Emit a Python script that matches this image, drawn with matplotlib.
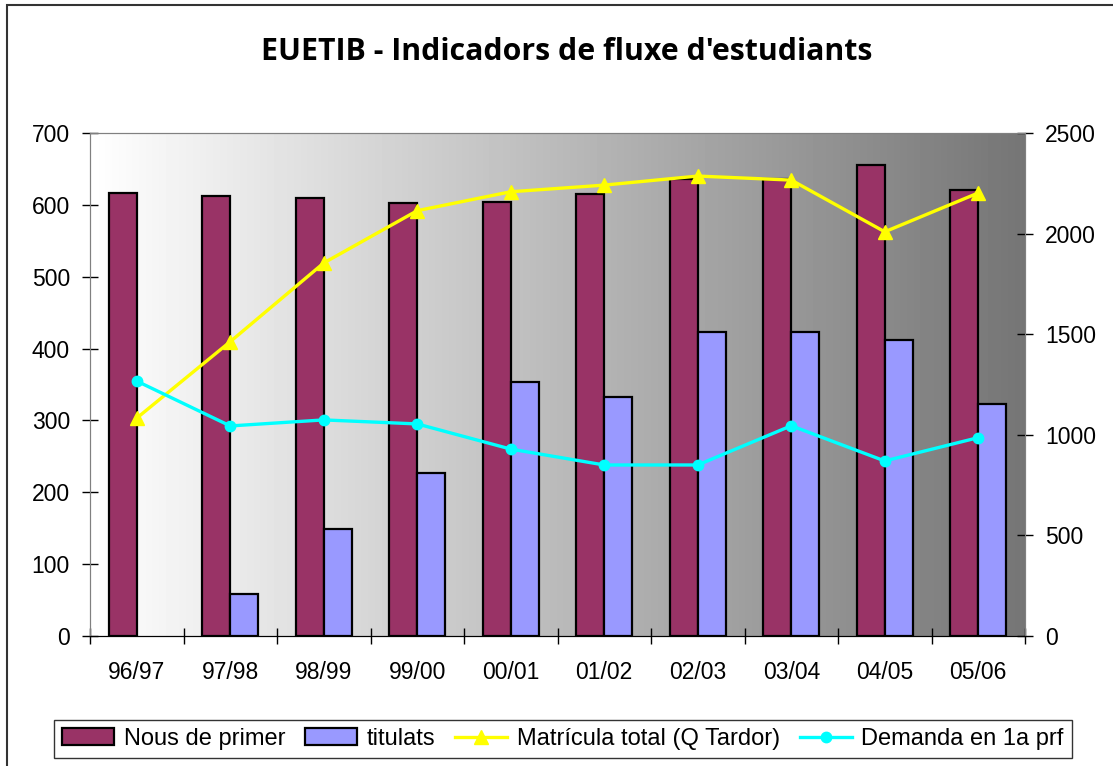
import matplotlib
matplotlib.use('Agg')
import matplotlib.pyplot as plt
import numpy as np
from matplotlib.patches import Rectangle, Patch
from matplotlib.lines import Line2D

plt.rcParams['font.family'] = ['Liberation Sans', 'DejaVu Sans']

cursos = ['96/97', '97/98', '98/99', '99/00', '00/01', '01/02', '02/03', '03/04', '04/05', '05/06']
nous_primer = [617, 612, 609, 602, 604, 615, 636, 636, 655, 620]
titulats = [0, 58, 149, 227, 353, 333, 423, 423, 412, 323]
matricula_total = [1083, 1463, 1854, 2114, 2208, 2241, 2286, 2266, 2009, 2202]
demanda_1a = [1267, 1044, 1074, 1054, 929, 850, 850, 1045, 870, 986]

fs = 16.5
x = np.arange(len(cursos))
w = 0.3

fig = plt.figure(figsize=(11.13, 7.66), dpi=100)
ax1 = fig.add_axes([90/1113, 1-636/766, (1025-90)/1113, (636-133)/766])
ax2 = ax1.twinx()

# degradat del fons (blanc -> gris)
grad = np.linspace(1.0, 0.46, 256).reshape(1, -1)
ax1.imshow(grad, cmap='gray', vmin=0, vmax=1, aspect='auto',
           extent=(-0.5, 9.5, 0, 700), zorder=0, interpolation='bicubic')

ax1.bar(x - w/2, nous_primer, w, color='#993366', edgecolor='black', linewidth=1.6, zorder=2)
vores = ['none' if v == 0 else 'black' for v in titulats]
ax1.bar(x + w/2, titulats, w, color='#9999FF', edgecolor=vores, linewidth=1.6, zorder=2)

ax2.plot(x, matricula_total, color='#FFFF00', lw=2.4, marker='^', ms=10, zorder=3)
ax2.plot(x, demanda_1a, color='#00FFFF', lw=2.4, marker='o', ms=7.5, zorder=3)

ax1.set_xlim(-0.5, 9.5)
ax1.set_ylim(0, 700)
ax2.set_ylim(0, 2500)
ax1.set_yticks(range(0, 701, 100))
ax2.set_yticks(range(0, 2501, 500))
ax1.set_xticks(x)
ax1.set_xticklabels(cursos)
ax1.set_xticks(np.arange(-0.5, 10, 1), minor=True)
ax1.tick_params(axis='x', which='major', length=0, pad=18, labelsize=fs)
ax1.tick_params(axis='x', which='minor', direction='inout', length=11, width=1)
ax1.tick_params(axis='y', direction='inout', length=11, width=1, pad=9, labelsize=fs)
ax2.tick_params(axis='y', direction='inout', length=11, width=1, pad=9, labelsize=fs)

for a in (ax1, ax2):
    a.spines['top'].set_color('#808080')
    a.spines['left'].set_color('#808080')
    a.spines['right'].set_color('#808080')
    a.spines['bottom'].set_color('black')

fig.text(0.509, 1-52/766, "EUETIB - Indicadors de fluxe d'estudiants",
         ha='center', va='center', fontsize=21.8, fontweight='bold', family='Open Sans')

handles = [Patch(facecolor='#993366', edgecolor='black', linewidth=1.6),
           Patch(facecolor='#9999FF', edgecolor='black', linewidth=1.6),
           Line2D([], [], color='#FFFF00', lw=2.4, marker='^', ms=10),
           Line2D([], [], color='#00FFFF', lw=2.4, marker='o', ms=7.5)]
labels = ['Nous de primer', 'titulats', 'Matrícula total (Q Tardor)', 'Demanda en 1a prf']
leg = fig.legend(handles, labels, loc='center', bbox_to_anchor=(563/1113, 1-739/766),
                 ncol=4, fontsize=17, frameon=True, fancybox=False, handlelength=2.2,
                 handleheight=0.7, columnspacing=0.85, handletextpad=0.4, borderpad=0.35)
leg.get_frame().set_edgecolor('black')
leg.get_frame().set_linewidth(1)

# marc del gràfic
fig.patches.append(Rectangle((7/1113, -0.1), 1.2, 1.1 - 5/766, transform=fig.transFigure,
                             fill=False, edgecolor='#333333', linewidth=1.5))

fig.savefig('out.png', dpi=100)
